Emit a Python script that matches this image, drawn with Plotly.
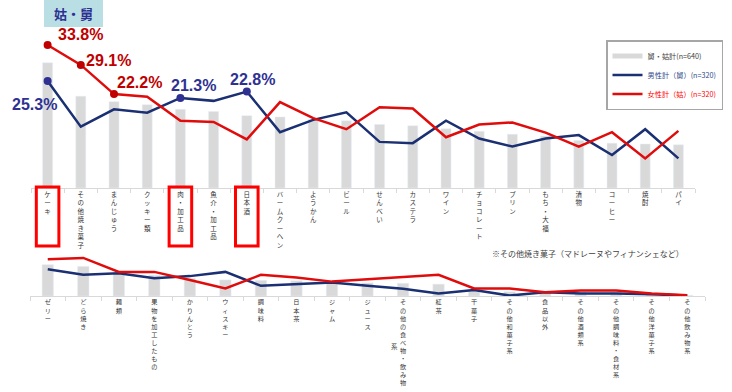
import plotly.graph_objects as go

# ---------------- data ----------------
top_categories = ["ケーキ", "その他焼き菓子", "まんじゅう", "クッキー類", "肉・加工品", "魚介・加工品",
                  "日本酒", "バームクーヘン", "ようかん", "ビール", "せんべい", "カステラ", "ワイン",
                  "チョコレート", "プリン", "もち・大福", "漬物", "コーヒー", "焼酎", "パイ"]
total_top = [29.6, 21.7, 20.4, 19.7, 18.6, 18.1, 17.1, 16.8, 16.2, 15.9, 15.0, 14.7, 14.0,
             13.4, 12.7, 12.3, 11.2, 10.6, 10.4, 10.2]
male_top = [25.3, 14.5, 18.6, 17.8, 21.3, 20.6, 22.8, 13.2, 16.1, 17.9, 10.9, 10.6, 15.9,
            11.7, 9.8, 11.7, 12.5, 7.8, 13.9, 7.0]
female_top = [33.8, 29.1, 22.2, 21.6, 15.9, 15.6, 11.5, 20.3, 16.5, 13.9, 19.1, 18.8, 12.0,
              15.0, 15.5, 13.1, 9.8, 13.2, 7.0, 13.5]

bottom_categories = ["ゼリー", "どら焼き", "麺類", "果物を加工したもの", "かりんとう", "ウィスキー",
                     "調味料", "日本茶", "ジャム", "ジュース", "その他の食べ物・飲み物系", "紅茶",
                     "干菓子", "その他和菓子系", "食品以外", "その他酒類系", "その他調味料・食材系",
                     "その他洋菓子系", "その他飲み物系"]
total_bottom = [7.4, 7.0, 5.5, 4.9, 4.2, 3.8, 3.7, 3.6, 3.3, 3.1, 3.0, 2.8, 1.6, 1.0, 0.9,
                0.9, 0.9, 0.5, 0.15]
male_bottom = [6.3, 5.0, 5.4, 4.2, 4.7, 5.7, 2.4, 2.8, 3.2, 2.4, 1.7, 0.6, 1.4, 0.1, 0.9,
               0.6, 0.6, 0.4, 0.1]
female_bottom = [8.7, 9.0, 5.7, 5.7, 3.8, 1.8, 5.0, 4.4, 3.4, 3.9, 4.4, 5.0, 1.8, 1.8, 0.9,
                 1.3, 1.3, 0.6, 0.2]

male_highlight = [0, 4, 6]
female_highlight = [0, 1, 2]
boxed = [0, 4, 6]

name_total = "舅・姑計(n=640)"
name_male = "男性計（舅）(n=320)"
name_female = "女性計（姑）(n=320)"
title_tag = "姑・舅"
footnote = "※その他焼き菓子（マドレーヌやフィナンシェなど）"

# ---------------- style ----------------
W, H = 732, 392
GRAY = "#d9d9d9"
NAVY = "#1b2f73"
RED = "#e00b0b"
RED_LBL = "#c00000"
BLUE_LBL = "#2e3192"
JP = "Noto Sans CJK JP"


def fx(p):
    return p / W


def fy(p):
    return 1 - p / H


def vertical(s):
    return "<br>".join(list(s))


fig = go.Figure()

# top panel
fig.add_trace(go.Bar(x=top_categories, y=total_top, marker_color=GRAY, width=0.3,
                     xaxis="x", yaxis="y", showlegend=False, hoverinfo="skip"))
fig.add_trace(go.Scatter(x=[None], y=[None], mode="lines", line=dict(color=GRAY, width=5),
                         name=f"<span style='color:#404040'>{name_total}</span>", legendgroup="a",
                         xaxis="x", yaxis="y"))
fig.add_trace(go.Scatter(x=top_categories, y=male_top, mode="lines", line=dict(color=NAVY, width=2.5),
                         name=f"<span style='color:#2f4a8a'>{name_male}</span>", legendgroup="b",
                         xaxis="x", yaxis="y"))
fig.add_trace(go.Scatter(x=top_categories, y=female_top, mode="lines", line=dict(color=RED, width=2.5),
                         name=f"<span style='color:#ff0000'>{name_female}</span>", legendgroup="c",
                         xaxis="x", yaxis="y"))
fig.add_trace(go.Scatter(x=[top_categories[i] for i in male_highlight],
                         y=[male_top[i] for i in male_highlight], mode="markers",
                         marker=dict(color=BLUE_LBL, size=8), showlegend=False,
                         xaxis="x", yaxis="y"))
fig.add_trace(go.Scatter(x=[top_categories[i] for i in female_highlight],
                         y=[female_top[i] for i in female_highlight], mode="markers",
                         marker=dict(color=RED_LBL, size=8), showlegend=False,
                         xaxis="x", yaxis="y"))

# bottom panel
fig.add_trace(go.Bar(x=bottom_categories, y=total_bottom, marker_color=GRAY, width=0.32,
                     xaxis="x2", yaxis="y2", showlegend=False, hoverinfo="skip"))
fig.add_trace(go.Scatter(x=bottom_categories, y=male_bottom, mode="lines",
                         line=dict(color=NAVY, width=2.5), showlegend=False,
                         xaxis="x2", yaxis="y2"))
fig.add_trace(go.Scatter(x=bottom_categories, y=female_bottom, mode="lines",
                         line=dict(color=RED, width=2.5), showlegend=False,
                         xaxis="x2", yaxis="y2"))

# percentage labels
female_offsets = {0: (33, 11), 1: (28, 4), 2: (25, 12)}
male_offsets = {0: (-13, -24), 4: (13, 12), 6: (6, 12)}
annotations = []
for i in female_highlight:
    dx, dy = female_offsets[i]
    annotations.append(dict(x=top_categories[i], y=female_top[i], xref="x", yref="y",
                            text=f"<b>{female_top[i]:.1f}%</b>", showarrow=False,
                            xshift=dx, yshift=dy, xanchor="center", yanchor="middle",
                            font=dict(family="Arial, Liberation Sans", size=16, color=RED_LBL)))
for i in male_highlight:
    dx, dy = male_offsets[i]
    annotations.append(dict(x=top_categories[i], y=male_top[i], xref="x", yref="y",
                            text=f"<b>{male_top[i]:.1f}%</b>", showarrow=False,
                            xshift=dx, yshift=dy, xanchor="center", yanchor="middle",
                            font=dict(family="Arial, Liberation Sans", size=16, color=BLUE_LBL)))

# title tag
annotations.append(dict(x=fx(73.5), y=fy(13), xref="paper", yref="paper", text=f"<b>{title_tag}</b>",
                        xanchor="center", yanchor="middle",
                        showarrow=False, font=dict(family=JP, size=13, color=BLUE_LBL)))
# footnote
annotations.append(dict(x=fx(588), y=fy(253), xref="paper", yref="paper", text=footnote,
                        xanchor="center", yanchor="middle",
                        showarrow=False, font=dict(family=JP, size=8, color="#404040")))
# wrapped last char of long bottom label
special = bottom_categories[10]
annotations.append(dict(x=10, y=fy(346), xref="x2", yref="paper", text=special[-1], xshift=-9,
                        xanchor="center", yanchor="middle",
                        showarrow=False, font=dict(family=JP, size=6.5, color="#404040")))

shapes = [dict(type="rect", xref="paper", yref="paper", x0=fx(44), x1=fx(103), y0=fy(27), y1=fy(0),
               fillcolor="#b9dfe4", line=dict(width=0), layer="below")]
for i in boxed:
    shapes.append(dict(type="rect", xref="x", yref="paper", x0=i - 0.34, x1=i + 0.34,
                       y0=fy(246), y1=fy(187), line=dict(color="#ff0000", width=3)))

top_ticktext = [vertical(c) for c in top_categories]
bottom_ticktext = [vertical(c) if c != special else vertical(c[:-1]) for c in bottom_categories]

axis_common = dict(type="category", showline=True, linecolor=GRAY, linewidth=1, ticks="outside",
                   ticklen=4, tickcolor=GRAY, tickson="boundaries", showgrid=False, zeroline=False,
                   tickangle=0, automargin=False)

fig.update_layout(
    width=W, height=H, margin=dict(l=0, r=0, t=0, b=0, autoexpand=False),
    paper_bgcolor="white", plot_bgcolor="white",
    xaxis=dict(domain=[fx(31), fx(695)], anchor="y", range=[-0.5, 19.5],
               tickmode="array", tickvals=top_categories, ticktext=top_ticktext,
               tickfont=dict(family=JP, size=6.5, color="#333333"), **axis_common),
    yaxis=dict(domain=[fy(188), fy(18.8)], anchor="x", range=[0, 40], visible=False),
    xaxis2=dict(domain=[fx(30), fx(705)], anchor="y2", range=[-0.5, 18.5],
                tickmode="array", tickvals=bottom_categories, ticktext=bottom_ticktext,
                tickfont=dict(family=JP, size=6.2, color="#333333"), **axis_common),
    yaxis2=dict(domain=[fy(296), fy(253.7)], anchor="x2", range=[0, 10], visible=False),
    legend=dict(x=fx(606), y=fy(40), xanchor="left", yanchor="top", bgcolor="white",
                bordercolor="#a6a6a6", borderwidth=1.5, font=dict(family=JP, size=7.2),
                tracegroupgap=11, traceorder="normal"),
    annotations=annotations, shapes=shapes, showlegend=True,
)

fig.write_html("out.html", config={"displayModeBar": False},
               post_script="document.body.style.margin='0px';")
